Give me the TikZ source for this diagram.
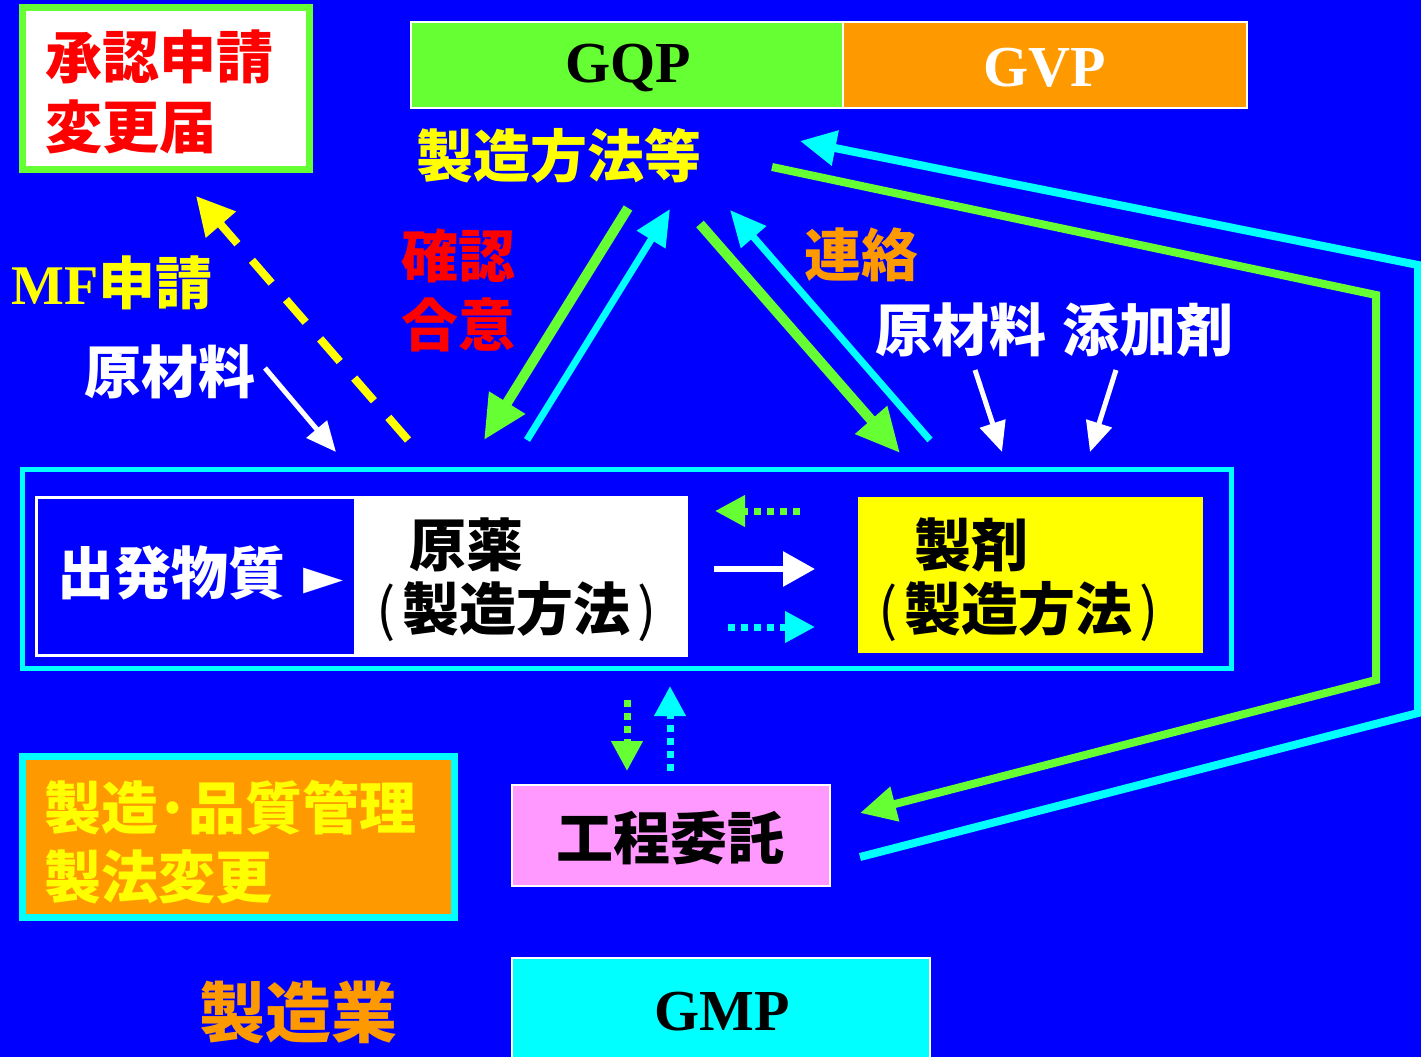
\documentclass[tikz,border=0pt]{standalone}
\usepackage{fontspec}
\usetikzlibrary{arrows.meta}
\newfontfamily\cjk{Noto Sans CJK JP}
\newfontfamily\tms{Liberation Serif}
\newfontfamily\djv{DejaVu Sans}
\newcommand\fsz[1]{\fontsize{#1}{#1}\selectfont}
\newcommand\lpar{{\mdseries(}\kern7pt}
\newcommand\rpar{\kern7pt{\mdseries)}}
\definecolor{bgblue}{RGB}{0,0,255}
\definecolor{lgreen}{RGB}{102,255,51}
\definecolor{cyanc}{RGB}{0,255,255}
\definecolor{orng}{RGB}{255,153,0}
\definecolor{yel}{RGB}{255,255,0}
\definecolor{pinkc}{RGB}{255,153,255}
\definecolor{redc}{RGB}{255,0,0}
\tikzset{
  box/.style={inner sep=0pt, outer sep=0pt, anchor=north west},
  txt/.style={inner sep=0pt, anchor=west, font=\cjk\bfseries\fsz{57}},
  lat/.style={inner sep=0pt, font=\tms\bfseries\fsz{58}},
  bigg/.style={draw=lgreen, line width=10pt, -{Triangle[length=44pt,width=40pt]}},
  bigc/.style={draw=cyanc, line width=7pt, -{Triangle[length=36pt,width=32pt]}},
  whitea/.style={draw=white, line width=5pt, -{Triangle[length=30pt,width=26pt]}},
  dotg/.style={draw=lgreen, line width=7pt, dash pattern=on 7pt off 6pt, -{Triangle[length=30pt,width=30pt]}},
  dotc/.style={draw=cyanc, line width=7pt, dash pattern=on 7pt off 6pt, -{Triangle[length=30pt,width=30pt]}},
}
\begin{document}
\begin{tikzpicture}[x=1pt,y=-1pt]
\useasboundingbox (0,0) rectangle (1421,1057);
\fill[bgblue] (0,0) rectangle (1421,1057);

% --- boxes ---
\node[box, draw=lgreen, line width=7pt, fill=white, minimum width=287pt, minimum height=162pt] (shonin) at (22.5,7.5) {};
\node[box, draw=white, line width=2pt, fill=lgreen, minimum width=432pt, minimum height=86pt] (gqpbox) at (411,22) {};
\node[box, draw=white, line width=2pt, fill=orng, minimum width=404pt, minimum height=86pt] (gvpbox) at (843,22) {};
\node[box, draw=cyanc, line width=5pt, minimum width=1209pt, minimum height=199pt] (mainbox) at (22.5,469.5) {};
\node[box, draw=white, line width=3pt, fill=white, minimum width=649.5pt, minimum height=158pt] (genbox) at (36.5,497.5) {};
\node[box, fill=bgblue, minimum width=316pt, minimum height=155pt] (shubox) at (38,499) {};
\node[box, fill=yel, minimum width=345pt, minimum height=156pt] (seibox) at (858,497) {};
\node[box, draw=cyanc, line width=7pt, fill=orng, minimum width=432pt, minimum height=161pt] (hinbox) at (22.5,756.5) {};
\node[box, draw=white, line width=2pt, fill=pinkc, minimum width=318pt, minimum height=101pt] (kotbox) at (512,785) {};
\node[box, draw=white, line width=2pt, fill=cyanc, minimum width=418pt, minimum height=110pt] (gmpbox) at (512,958) {};

% --- texts ---
\node[txt, text=redc] (t1) at (45,57) {承認申請};
\node[txt, text=redc] (t2) at (45,127) {変更届};
\node[lat, text=black] (gqp) at (628,68) {GQP};
\node[lat, text=white] (gvp) at (1045,68) {GVP};
\node[txt, text=yel] (seiho) at (416,156) {製造方法等};
\node[txt, text=redc] (kaku) at (401,256) {確認};
\node[txt, text=redc] (goi) at (401,325) {合意};
\node[txt, text=orng] (renraku) at (804,255) {連絡};
\node[txt, text=white] (genr) at (875,330) {原材料\kern16pt 添加剤};
\node[txt, text=yel] (mf) at (11,283) {{\tms\bfseries\fsz{56}MF}申請};
\node[txt, text=white] (genl) at (84,372) {原材料};
\node[txt, text=white] (shup) at (57,573) {出発物質\kern18pt{\djv\fsz{52}►}};
\node[txt, text=black] (genyaku) at (409,545) {原薬};
\node[txt, text=black] (genho) at (376,612) {\lpar 製造方法\rpar};
\node[txt, text=black] (seizai) at (914,545) {製剤};
\node[txt, text=black] (seizaiho) at (878,612) {\lpar 製造方法\rpar};
\node[txt, text=black] (kotei) at (556,838) {工程委託};
\node[txt, text=yel] (hin1) at (44,808) {製造\makebox[30pt]{·}品質管理};
\node[txt, text=yel] (hin2) at (44,877) {製法変更};
\node[txt, text=orng, font=\cjk\bfseries\fsz{66}] (seizogyo) at (199,1012) {製造業};
\node[lat, text=black] (gmp) at (722,1012) {GMP};

% --- connector end points ---
\coordinate (y1) at (408,440); \coordinate (y2) at (196,196);
\coordinate (w1) at (265,368); \coordinate (w2) at (336,452);
\coordinate (g1) at (628,208); \coordinate (g2) at (484,440);
\coordinate (c1) at (527,440); \coordinate (c2) at (670,209);
\coordinate (g3) at (700,224); \coordinate (g4) at (900,453);
\coordinate (c3) at (930,440); \coordinate (c4) at (730,210);
\coordinate (w3) at (975,370); \coordinate (w4) at (1002,452);
\coordinate (w5) at (1116,370); \coordinate (w6) at (1090,452);
\coordinate (cp1) at (860,857); \coordinate (cp2) at (1418,713); \coordinate (cp3) at (1418,265); \coordinate (cp4) at (800,141);
\coordinate (gp1) at (772,167); \coordinate (gp2) at (1376,295); \coordinate (gp3) at (1376,680); \coordinate (gp4) at (860,813);
\coordinate (dg1) at (800,511); \coordinate (dg2) at (715,511);
\coordinate (wm1) at (714,569); \coordinate (wm2) at (815,569);
\coordinate (dc1) at (728,627); \coordinate (dc2) at (815,627);
\coordinate (dv1) at (627,700); \coordinate (dv2) at (627,771);
\coordinate (dv3) at (670,771); \coordinate (dv4) at (670,686);

% --- connectors ---
\draw[draw=yel, line width=8pt, dash pattern=on 30pt off 22pt, -{Triangle[length=38pt,width=38pt]}] (y1) -- (y2);
\draw[whitea] (w1) -- (w2);
\draw[bigg] (g1) -- (g2);
\draw[bigc] (c1) -- (c2);
\draw[bigg] (g3) -- (g4);
\draw[bigc] (c3) -- (c4);
\draw[whitea] (w3) -- (w4);
\draw[whitea] (w5) -- (w6);
\draw[draw=cyanc, line width=8pt, -{Triangle[length=36pt,width=34pt]}] (cp1) -- (cp2) -- (cp3) -- (cp4);
\draw[draw=lgreen, line width=8pt, -{Triangle[length=36pt,width=34pt]}] (gp1) -- (gp2) -- (gp3) -- (gp4);
\draw[dotg] (dg1) -- (dg2);
\draw[draw=white, line width=6pt, -{Triangle[length=32pt,width=34pt]}] (wm1) -- (wm2);
\draw[dotc] (dc1) -- (dc2);
\draw[dotg] (dv1) -- (dv2);
\draw[dotc] (dv3) -- (dv4);
\end{tikzpicture}
\end{document}
